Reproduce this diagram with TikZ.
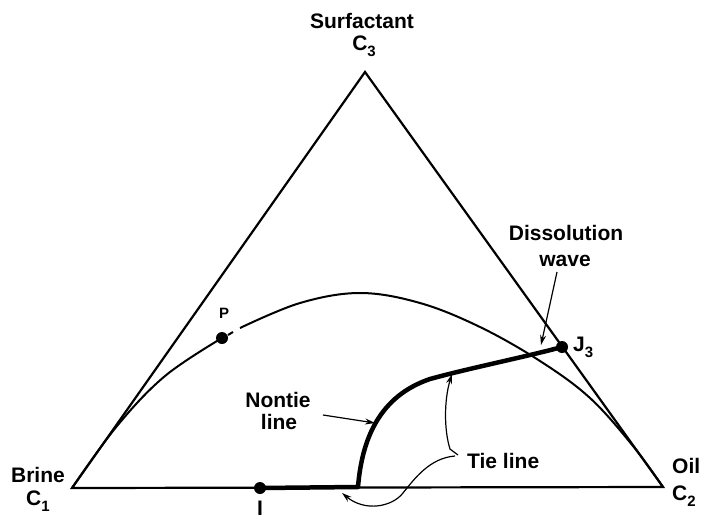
\documentclass[tikz,border=0pt]{standalone}
\usepackage{fontspec}
\setmainfont{Liberation Sans}
\usetikzlibrary{arrows.meta}
\newcommand\lsub[1]{\raisebox{-0.32em}{\fontsize{15}{15}\selectfont #1}}
\begin{document}
\begin{tikzpicture}[x=1pt,y=-1pt,
  lbl/.style={font=\fontsize{21}{22}\selectfont\bfseries, inner sep=0pt},
  smalllbl/.style={font=\fontsize{15}{16}\selectfont\bfseries, inner sep=0pt},
  edgeline/.style={line width=2.2pt, line join=miter},
  binodal/.style={line width=2pt},
  pathline/.style={line width=4.5pt, line cap=round, line join=round},
  dot/.style={circle, fill=black, inner sep=0pt, minimum size=12pt},
  arr/.style={-{Stealth[length=10pt,width=6pt]}, line width=1.2pt}]
\useasboundingbox (0,0) rectangle (703,519);
% vertices
\coordinate (C1) at (72,488);
\coordinate (C2) at (663,487);
\coordinate (C3) at (365,72);
\draw[edgeline] (C1) -- (C2) -- (C3) -- cycle;
% binodal curve
\node[dot] (P) at (222,338) {};
\draw[binodal] plot[smooth, tension=0.6] coordinates {(72,488) (117,426) (165,376) (P.center)};
\coordinate (g1) at (228,335);
\coordinate (g2) at (233,332);
\draw[binodal] (g1) -- (g2);
\draw[binodal] plot[smooth, tension=0.6] coordinates {(240,328) (300,303) (360,293) (420,303) (480,327) (540,361) (590,398) (633,446) (663,487)};
% composition path
\node[dot] (I) at (260,488) {};
\node[dot] (J3) at (562,347) {};
\coordinate (K) at (358,487);
\coordinate (M) at (430,379);
\draw[pathline] (I.center) -- (K) .. controls (362,438) and (380,396) .. (M) .. controls (470,368) and (525,357) .. (J3.center);
% labels
\node[lbl, anchor=base] (surf) at (362,29) {Surfactant};
\node[lbl, anchor=base] (c3) at (364,50) {C\lsub{3}};
\node[lbl, anchor=base] (brine) at (38,482) {Brine};
\node[lbl, anchor=base] (c1) at (38,505) {C\lsub{1}};
\node[lbl, anchor=base west] (oil) at (672,473) {Oil};
\node[lbl, anchor=base west] (c2) at (672,500) {C\lsub{2}};
\node[lbl, anchor=base] (diss) at (566,240) {Dissolution};
\node[lbl, anchor=base] (wave) at (565,266) {wave};
\node[lbl, anchor=base west] (j3lbl) at (573,351) {J\lsub{3}};
\node[smalllbl, anchor=base] (plbl) at (224,318) {P};
\node[lbl, anchor=base] (ilbl) at (260,515) {I};
\node[lbl, anchor=base] (nontie) at (278,407) {Nontie};
\node[lbl, anchor=base] (nline) at (279,429) {line};
\node[lbl, anchor=base west] (tie) at (467,468) {Tie line};
% arrows
\coordinate (dwT) at (557,272);
\coordinate (dwH) at (541,345);
\draw[arr] (dwT) -- (dwH);
\coordinate (ntT) at (323,415);
\coordinate (ntH) at (375,423);
\draw[arr] (ntT) -- (ntH);
\coordinate (tl0) at (458,455);
\coordinate (tl1) at (450,449);
\coordinate (tlH) at (452,374);
\draw[arr] (tl0) -- (tl1) .. controls (444,430) and (444,400) .. (tlH);
\coordinate (tl2) at (455,456);
\coordinate (tl3) at (403,493);
\coordinate (tlH2) at (342,493);
\draw[arr] (tl2) .. controls (430,458) and (415,478) .. (tl3) .. controls (392,507) and (365,512) .. (tlH2);
\end{tikzpicture}
\end{document}
